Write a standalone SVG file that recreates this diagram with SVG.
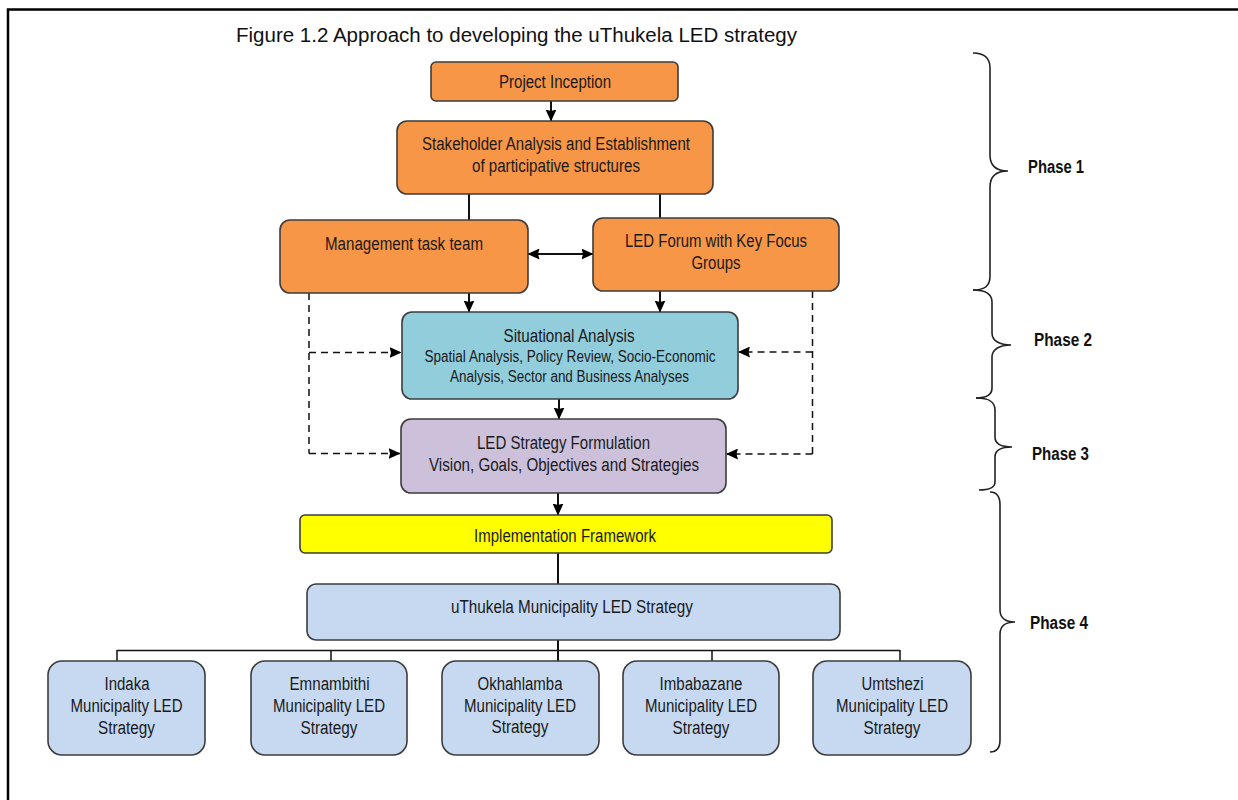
<svg xmlns="http://www.w3.org/2000/svg" width="1238" height="800" viewBox="0 0 1238 800">
<style>
.t{font-family:"Liberation Sans",Arial,sans-serif;font-size:18px;fill:#1a1a1a;text-anchor:middle}
.s{font-size:16px}
.ph{font-family:"Liberation Sans",Arial,sans-serif;font-size:18px;font-weight:bold;fill:#111}
.box{stroke:#3c3c3c;stroke-width:1.6}
.or{fill:#F79646}.cy{fill:#92CDDC}.pu{fill:#CCC0DA}.ye{fill:#FFFF00}.lb{fill:#C6D9F1}
.ln{fill:none;stroke:#111;stroke-width:2}
.thin{fill:none;stroke:#111;stroke-width:1.5}
.dash{fill:none;stroke:#111;stroke-width:1.5;stroke-dasharray:7 5}
.br{fill:none;stroke:#222;stroke-width:1.6}
</style>
<defs>
<marker id="ah" viewBox="0 0 12 11" refX="11.5" refY="5.5" markerWidth="12" markerHeight="11" markerUnits="userSpaceOnUse" orient="auto-start-reverse">
<path d="M0,0 L12,5.5 L0,11 L1.5,5.5 z" fill="#000"/>
</marker>
</defs>
<rect x="0" y="0" width="1238" height="800" fill="#fff"/>
<g id="border"><path d="M8,800 V9.5 H1238" fill="none" stroke="#000" stroke-width="2.5"/></g>
<text id="title" x="236" y="42" font-family="Liberation Sans,Arial,sans-serif" font-size="20" fill="#111" textLength="561" lengthAdjust="spacingAndGlyphs">Figure 1.2 Approach to developing the uThukela LED strategy</text>

<g id="connectors">
<path class="ln" d="M551,101 V121" marker-end="url(#ah)"/>
<path class="ln" d="M469,194 V220"/>
<path class="ln" d="M660,194 V218"/>
<path class="ln" d="M528,254 H593" marker-start="url(#ah)" marker-end="url(#ah)"/>
<path class="ln" d="M469,293 V312" marker-end="url(#ah)"/>
<path class="ln" d="M660,291 V312" marker-end="url(#ah)"/>
<path class="ln" d="M559,399 V419" marker-end="url(#ah)"/>
<path class="ln" d="M558,493 V515" marker-end="url(#ah)"/>
<path class="ln" d="M558,553 V584"/>
<path class="ln" d="M558,640 V661"/>
<path class="thin" d="M117,650.5 H900 M117,650 V661 M331,650 V661 M712,650 V661 M900,650 V661"/>
<path class="dash" d="M309,293 V453.5"/>
<path class="dash" d="M309,352.5 H401" marker-end="url(#ah)"/>
<path class="dash" d="M309,453.5 H400" marker-end="url(#ah)"/>
<path class="dash" d="M812.5,291 V454"/>
<path class="dash" d="M812.5,352 H738.5" marker-end="url(#ah)"/>
<path class="dash" d="M812.5,454 H726.5" marker-end="url(#ah)"/>
</g>

<g id="project-inception">
<rect class="box or" x="431" y="62" width="247" height="39" rx="5"/>
<text class="t" x="555" y="88" textLength="112" lengthAdjust="spacingAndGlyphs">Project Inception</text>
</g>
<g id="stakeholder">
<rect class="box or" x="397" y="121" width="316" height="73" rx="10"/>
<text class="t" x="556" y="150" textLength="268" lengthAdjust="spacingAndGlyphs">Stakeholder Analysis and Establishment</text>
<text class="t" x="556" y="172" textLength="168" lengthAdjust="spacingAndGlyphs">of participative structures</text>
</g>
<g id="management">
<rect class="box or" x="280" y="220" width="248" height="73" rx="10"/>
<text class="t" x="404" y="250" textLength="158" lengthAdjust="spacingAndGlyphs">Management task team</text>
</g>
<g id="led-forum">
<rect class="box or" x="593" y="218" width="246" height="73" rx="10"/>
<text class="t" x="716" y="247" textLength="182" lengthAdjust="spacingAndGlyphs">LED Forum with Key Focus</text>
<text class="t" x="716" y="269" textLength="49" lengthAdjust="spacingAndGlyphs">Groups</text>
</g>
<g id="situational">
<rect class="box cy" x="402" y="312" width="336" height="87" rx="10"/>
<text class="t" x="569" y="342" textLength="131" lengthAdjust="spacingAndGlyphs">Situational Analysis</text>
<text class="t s" x="570" y="361.5" textLength="291" lengthAdjust="spacingAndGlyphs">Spatial Analysis, Policy Review, Socio-Economic</text>
<text class="t s" x="569.5" y="382" textLength="239" lengthAdjust="spacingAndGlyphs">Analysis, Sector and Business Analyses</text>
</g>
<g id="strategy-formulation">
<rect class="box pu" x="401" y="419" width="325" height="74" rx="10"/>
<text class="t" x="563.5" y="449" textLength="173" lengthAdjust="spacingAndGlyphs">LED Strategy Formulation</text>
<text class="t" x="564" y="471" textLength="270" lengthAdjust="spacingAndGlyphs">Vision, Goals, Objectives and Strategies</text>
</g>
<g id="implementation">
<rect class="box ye" x="300" y="515" width="532" height="38" rx="5"/>
<text class="t" x="565" y="542" textLength="182" lengthAdjust="spacingAndGlyphs">Implementation Framework</text>
</g>
<g id="uthukela">
<rect class="box lb" x="307" y="584" width="533" height="56" rx="9"/>
<text class="t" x="572" y="613" textLength="242" lengthAdjust="spacingAndGlyphs">uThukela Municipality LED Strategy</text>
</g>
<g id="indaka">
<rect class="box lb" x="48" y="661" width="157" height="94" rx="14"/>
<text class="t" x="127" y="690" textLength="45" lengthAdjust="spacingAndGlyphs">Indaka</text>
<text class="t" x="126.5" y="712" textLength="112" lengthAdjust="spacingAndGlyphs">Municipality LED</text>
<text class="t" x="126.5" y="734" textLength="57" lengthAdjust="spacingAndGlyphs">Strategy</text>
</g>
<g id="emnambithi">
<rect class="box lb" x="251" y="661" width="156" height="94" rx="14"/>
<text class="t" x="329.5" y="690" textLength="80" lengthAdjust="spacingAndGlyphs">Emnambithi</text>
<text class="t" x="329" y="712" textLength="112" lengthAdjust="spacingAndGlyphs">Municipality LED</text>
<text class="t" x="329" y="734" textLength="57" lengthAdjust="spacingAndGlyphs">Strategy</text>
</g>
<g id="okhahlamba">
<rect class="box lb" x="442" y="661" width="157" height="94" rx="14"/>
<text class="t" x="520" y="690" textLength="85" lengthAdjust="spacingAndGlyphs">Okhahlamba</text>
<text class="t" x="520" y="712" textLength="112" lengthAdjust="spacingAndGlyphs">Municipality LED</text>
<text class="t" x="520" y="733" textLength="57" lengthAdjust="spacingAndGlyphs">Strategy</text>
</g>
<g id="imbabazane">
<rect class="box lb" x="623" y="661" width="156" height="94" rx="14"/>
<text class="t" x="701" y="690" textLength="83" lengthAdjust="spacingAndGlyphs">Imbabazane</text>
<text class="t" x="701" y="712" textLength="112" lengthAdjust="spacingAndGlyphs">Municipality LED</text>
<text class="t" x="701" y="734" textLength="57" lengthAdjust="spacingAndGlyphs">Strategy</text>
</g>
<g id="umtshezi">
<rect class="box lb" x="813" y="661" width="158" height="94" rx="14"/>
<text class="t" x="892.5" y="690" textLength="62" lengthAdjust="spacingAndGlyphs">Umtshezi</text>
<text class="t" x="892" y="712" textLength="112" lengthAdjust="spacingAndGlyphs">Municipality LED</text>
<text class="t" x="892" y="734" textLength="57" lengthAdjust="spacingAndGlyphs">Strategy</text>
</g>

<g id="phases">
<path class="br" d="M973,53 C985,53 990,58 990,68 V155 C990,166 997,171 1008,171 C997,171 990,176 990,187 V276 C990,286 985,290 973,290"/>
<path class="br" d="M973,290 C986,290 992,294 992,302 V333 C992,341 1000,345 1011,345 C1000,345 992,349 992,357 V388 C992,395 986,398 976,398"/>
<path class="br" d="M976,398 C990,398 995,402 995,410 V437 C995,444 1002,447 1012,447 C1002,447 995,450 995,457 V482 C995,488 988,490 979,490"/>
<path class="br" d="M990,492 C997,492 1000,497 1000,505 V610 C1000,618 1006,622 1015,622 C1006,622 1000,626 1000,634 V740 C1000,748 997,752 990,752"/>
<text class="ph" x="1028" y="173" textLength="56" lengthAdjust="spacingAndGlyphs">Phase 1</text>
<text class="ph" x="1034" y="346" textLength="58" lengthAdjust="spacingAndGlyphs">Phase 2</text>
<text class="ph" x="1032" y="460" textLength="57" lengthAdjust="spacingAndGlyphs">Phase 3</text>
<text class="ph" x="1030" y="629" textLength="58" lengthAdjust="spacingAndGlyphs">Phase 4</text>
</g>
</svg>
